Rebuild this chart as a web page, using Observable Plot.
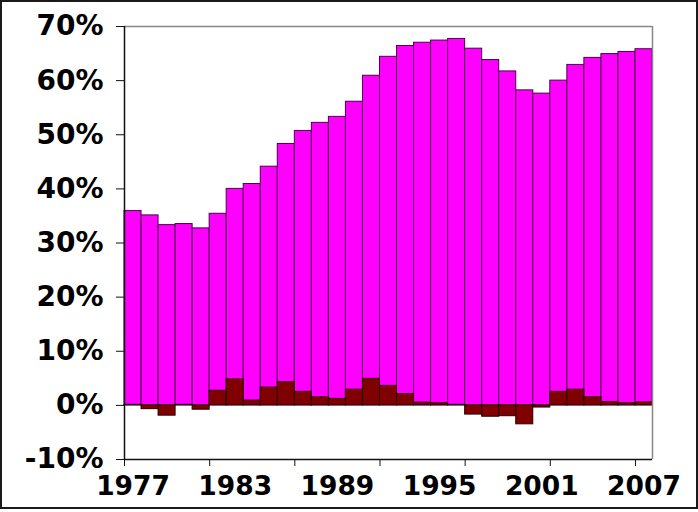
<!DOCTYPE html>
<html>
<head>
<meta charset="utf-8">
<script src="https://cdn.jsdelivr.net/npm/d3@7"></script>
<script src="https://cdn.jsdelivr.net/npm/@observablehq/plot@0.6"></script>
<style>
  html, body { margin: 0; padding: 0; background: #fff; }
  #wrap { width: 694px; height: 505px; border: 2px solid #1a1a1a; background: #fff; overflow: hidden; }
</style>
</head>
<body>
<div id="wrap"></div>
<script>
const years = [1977,1978,1979,1980,1981,1982,1983,1984,1985,1986,1987,1988,1989,1990,1991,1992,1993,1994,1995,1996,1997,1998,1999,2000,2001,2002,2003,2004,2005,2006,2007];
const share = [35.9,35.1,33.3,33.5,32.7,35.4,40.0,40.9,44.1,48.3,50.7,52.2,53.3,56.1,60.9,64.4,66.4,67.0,67.4,67.7,65.9,63.8,61.7,58.2,57.6,60.0,62.9,64.2,64.9,65.3,65.8];
const change = [0.1,-0.7,-1.9,0.1,-0.8,2.7,4.8,0.9,3.3,4.3,2.5,1.5,1.2,2.9,4.9,3.6,2.1,0.5,0.4,0.1,-1.7,-2.1,-2.0,-3.5,-0.4,2.5,2.9,1.5,0.6,0.4,0.55];
const yTicks = [-10,0,10,20,30,40,50,60,70];
const xTickMarks = [1977,1982,1987,1992,1997,2002,2007];
const xLabels = [1977,1983,1989,1995,2001,2007];

const data = years.map((y, i) => ({year: y, next: y + 1, share: share[i], change: change[i], base: 0}));

const fam = "'DejaVu Sans', Verdana, sans-serif";
const yFont = {fontSize: 28, fontWeight: "bold", fontFamily: fam};
const xFont = {fontSize: 26.5, fontWeight: "bold", fontFamily: fam};

const chart = Plot.plot({
  width: 694,
  height: 505,
  marginLeft: 122,
  marginRight: 44,
  marginTop: 24,
  marginBottom: 48,
  style: {background: "#fff", fontFamily: fam, fontSize: "27px", fontWeight: "bold", color: "#000"},
  x: {type: "linear", domain: [1977, 2008]},
  y: {domain: [-10, 70]},
  marks: [
    Plot.rect(data, {x1: "year", x2: "next", y1: "base", y2: "share", fill: "#ff00ff", stroke: "#4a004a", strokeWidth: 1}),
    Plot.rect(data, {x1: "year", x2: "next", y1: "base", y2: "change", fill: "#800000", stroke: "#2a0000", strokeWidth: 1}),
    Plot.ruleY([70], {stroke: "#888", strokeWidth: 1.5}),
    Plot.ruleX([2008], {stroke: "#888", strokeWidth: 1.5}),
    Plot.ruleX([1977], {stroke: "#111", strokeWidth: 1.5}),
    Plot.ruleY([-10], {stroke: "#111", strokeWidth: 1.5}),
    Plot.axisY({ticks: yTicks, tickSize: 8, tickPadding: 13, tickFormat: d => d + "%", label: null, stroke: "#111", ...yFont}),
    Plot.axisX({ticks: xTickMarks, tickSize: 7, tickFormat: () => "", label: null, stroke: "#111"}),
    Plot.axisX({ticks: xLabels.map(y => y + 0.5), tickSize: 0, tickPadding: 17, tickFormat: d => String(d - 0.5), label: null, ...xFont})
  ]
});
document.getElementById("wrap").appendChild(chart);
</script>
</body>
</html>
